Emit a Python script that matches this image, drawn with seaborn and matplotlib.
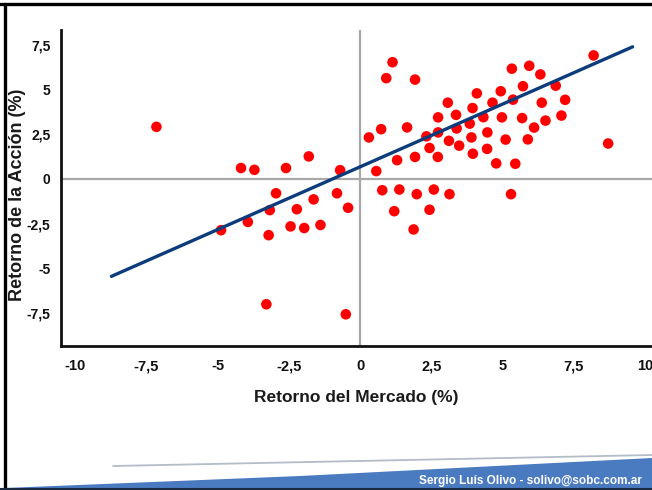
import numpy as np
import pandas as pd
import matplotlib
matplotlib.use("Agg")
import matplotlib.pyplot as plt
import seaborn as sns
from matplotlib.ticker import FixedLocator, FuncFormatter
from matplotlib.patches import Polygon
from matplotlib.lines import Line2D

# Retornos (%)
mercado = [-7.15, -4.18, -3.71, -2.60, -1.80, -0.70, -2.95, -0.81, -1.63, -0.42,
           -2.22, -3.17, -3.94, -4.88, -3.21, -2.44, -1.96, -1.39, -3.29, -0.50,
           0.78, 1.38, 1.99, 2.59, 3.14, 5.30, 1.20, 2.44, 1.88, 0.57,
           1.30, 1.93, 2.73, 3.96, 4.78, 5.45, 0.31, 0.74, 1.65, 2.44,
           3.12, 3.48, 4.46, 5.11, 5.89, 6.51, 6.11, 7.07, 8.71, 4.47,
           3.91, 3.39, 2.74, 2.33, 3.85, 4.33, 4.98, 5.69, 2.74, 3.37,
           3.95, 3.08, 4.65, 5.37, 6.38, 7.20, 4.10, 4.94, 5.72, 6.87,
           5.33, 5.94, 6.33, 8.20, 1.14, 0.92, 1.93]
accion = [2.91, 0.61, 0.51, 0.61, 1.26, 0.49, -0.80, -0.80, -1.14, -1.61,
          -1.69, -1.74, -2.40, -2.86, -3.14, -2.65, -2.74, -2.57, -7.00, -7.56,
          -0.63, -0.59, -0.85, -0.59, -0.85, -0.85, -1.80, -1.72, -2.82, 0.44,
          1.05, 1.23, 1.23, 1.41, 0.87, 0.85, 2.32, 2.78, 2.88, 1.73,
          2.13, 1.86, 1.68, 2.20, 2.21, 3.26, 2.87, 3.54, 1.98, 2.60,
          2.32, 2.82, 2.60, 2.38, 3.09, 3.45, 3.44, 3.40, 3.44, 3.58,
          3.96, 4.26, 4.26, 4.43, 4.26, 4.42, 4.78, 4.90, 5.18, 5.21,
          6.16, 6.32, 5.84, 6.90, 6.52, 5.63, 5.55]

# recta de regresion (extremos leidos)
recta_x = [-8.73, 9.57]
recta_y = [-5.44, 7.38]

ticks_x = [-10, -7.5, -5, -2.5, 0, 2.5, 5, 7.5, 10]
ticks_y = [-7.5, -5, -2.5, 0, 2.5, 5, 7.5]

df = pd.DataFrame({"mercado": mercado, "accion": accion})
recta = pd.DataFrame({"x": recta_x, "y": recta_y})

sns.set_style("white")
plt.rcParams['font.family'] = ['Liberation Sans', 'DejaVu Sans']
plt.rcParams['font.weight'] = 'bold'

W, H = 652, 490
fig = plt.figure(figsize=(W / 100, H / 100), dpi=100)
ax = fig.add_axes([61 / W, 144 / H, 591 / W, 316 / H])

ax.axhline(0, color='#a8a8a8', lw=1.6, zorder=1)
ax.axvline(0, color='#a8a8a8', lw=1.6, zorder=1)

sns.scatterplot(data=df, x="mercado", y="accion", color='#ff0000', s=58,
                edgecolor='none', ax=ax, zorder=3)
sns.lineplot(data=recta, x="x", y="y", color='#0c3c7c', lw=2.4, ax=ax, zorder=4)

ax.set_xlim(-10.5, 10.25)
ax.set_ylim(-9.33, 8.32)

fmt = FuncFormatter(lambda v, pos: f"{v:g}".replace('.', ','))
ax.xaxis.set_major_locator(FixedLocator(ticks_x))
ax.yaxis.set_major_locator(FixedLocator(ticks_y))
ax.xaxis.set_major_formatter(fmt)
ax.yaxis.set_major_formatter(fmt)

ax.tick_params(axis='x', direction='inout', length=11, width=1.8, pad=4,
               labelsize=10.5, colors='#111111')
ax.tick_params(axis='y', direction='inout', length=7, width=1.8, pad=4,
               labelsize=10, colors='#111111')

for side in ['top', 'right']:
    ax.spines[side].set_visible(False)
for side in ['left', 'bottom']:
    ax.spines[side].set_color('#111111')
    ax.spines[side].set_linewidth(2)

ax.set_xlabel("Retorno del Mercado (%)", fontsize=12.5, fontweight='bold',
              color='#1a1a1a', labelpad=12)
ax.set_ylabel("Retorno de la Acción (%)", fontsize=13, fontweight='bold',
              color='#1a1a1a')
ax.yaxis.set_label_coords(-0.059, 0.48)


def fy(py):
    return 1 - py / H


# pie de pagina: franja azul
franja = Polygon([(5 / W, fy(490)), (5 / W, fy(488)), (300 / W, fy(476)),
                  (1.0, fy(458)), (1.0, fy(490))],
                 closed=True, transform=fig.transFigure, facecolor='#4a7bc0',
                 edgecolor='none')
fig.add_artist(franja)
fig.add_artist(Line2D([113 / W, 1.0], [fy(466), fy(455)], transform=fig.transFigure,
                      color='#b4bcc8', lw=1.3))
fig.text(642 / W, fy(481), "Sergio Luís Olivo - solivo@sobc.com.ar", color='white',
         fontsize=8.5, fontweight='bold', ha='right', va='center')

# marco negro
fig.add_artist(Line2D([0, 1], [fy(4.5), fy(4.5)], transform=fig.transFigure,
                      color='black', lw=2.4))
fig.add_artist(Line2D([4.5 / W, 4.5 / W], [fy(4.5), 0], transform=fig.transFigure,
                      color='black', lw=2.4))
fig.add_artist(Line2D([0, 1], [fy(489), fy(489)], transform=fig.transFigure,
                      color='#1a2a40', lw=1.5))

fig.savefig("out.png", dpi=100)
